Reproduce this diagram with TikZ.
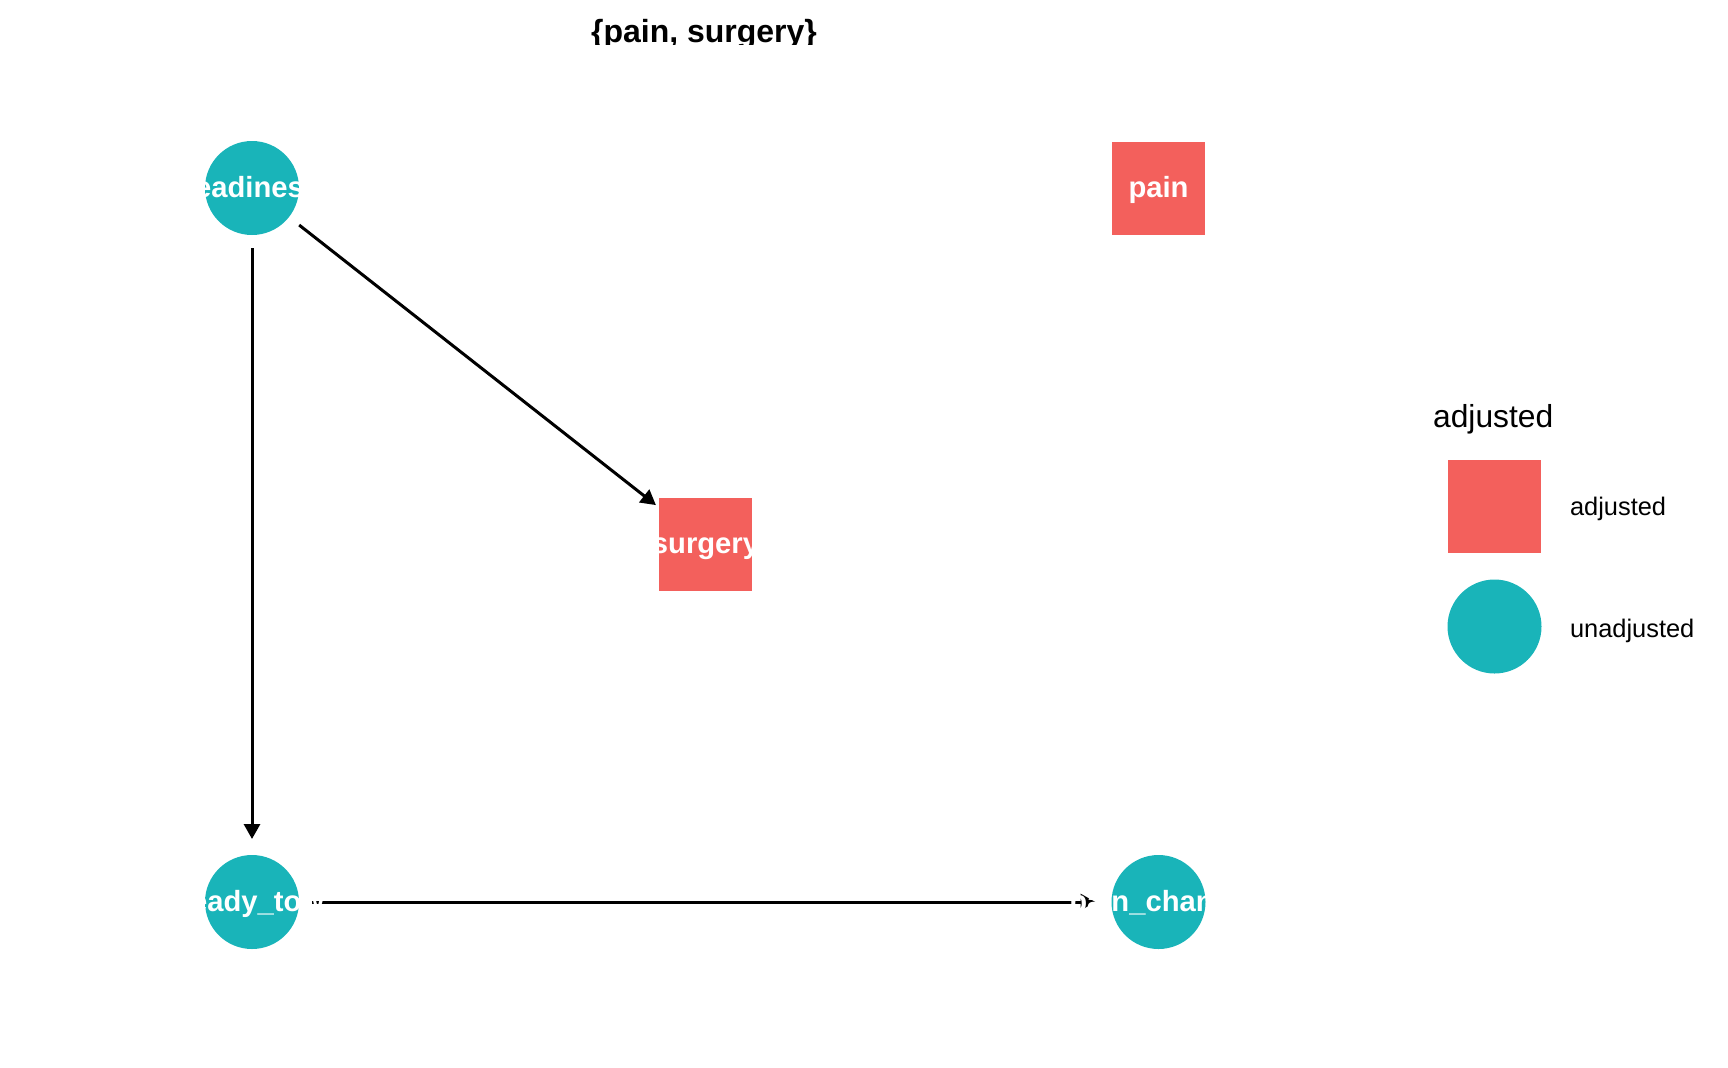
\documentclass[tikz,border=0pt]{standalone}
\usepackage{fontspec}
\setmainfont{Liberation Sans}
\usetikzlibrary{arrows.meta,backgrounds}
\definecolor{adjred}{RGB}{243,96,92}
\definecolor{unadjteal}{RGB}{25,180,185}

\begin{document}
\begin{tikzpicture}[x=0.5pt, y=-0.5pt,
	adj/.style = {rectangle, fill = adjred, minimum size = 46.5pt, inner sep = 0pt},
	unadj/.style = {circle, fill = unadjteal, minimum size = 47pt, inner sep = 0pt},
	dagtext/.style = {text = white, text height = 1ex, text depth = 0pt, yshift = -2.2pt, font = \bfseries\fontsize{14.6}{16}\selectfont},
	edge/.style = {-{Triangle[length = 7.5pt, width = 8pt]}, line width = 1.5pt, shorten < = 30pt, shorten > = 31.5pt}]
	\useasboundingbox (0,0) rectangle (1728,1067);
	% title, cut at the bottom as in the plot
	\begin{scope}
	\clip (0,0) rectangle (1728,44);
	\node [anchor = base, font = \bfseries\fontsize{16}{19}\selectfont] (title) at (704,42) {\{pain, surgery\}};
	\end{scope}
	% nodes of the dag
	\node [unadj, label = {[dagtext]center:readiness}] (readiness) at (252,188) {};
	\node [adj, label = {[dagtext]center:pain}] (pain) at (1158.5,188) {};
	\node [adj, label = {[dagtext]center:surgery}] (surgery) at (705.5,544) {};
	\node [unadj, label = {[dagtext]center:ready\_tow}] (ready) at (252,902) {};
	\node [unadj, label = {[dagtext]center:pain\_change}] (painchange) at (1158.5,902) {};
	\begin{pgfonlayer}{background}
	\draw [edge] (readiness.center) -- (surgery.center);
	\draw [edge] (readiness.center) -- (ready.center);
	\draw [edge] (ready.center) -- (painchange.center);
	\end{pgfonlayer}
	% legend
	\node [anchor = base west, font = \fontsize{15.9}{19}\selectfont] (legtitle) at (1426,427) {adjusted};
	\node [adj] (legadj) at (1494.5,506) {};
	\node [unadj] (legunadj) at (1494.5,626.5) {};
	\node [anchor = base west, font = \fontsize{12.7}{15}\selectfont] (legadjtext) at (1563,515) {adjusted};
	\node [anchor = base west, font = \fontsize{12.7}{15}\selectfont] (legunadjtext) at (1563,637) {unadjusted};
\end{tikzpicture}
\end{document}
